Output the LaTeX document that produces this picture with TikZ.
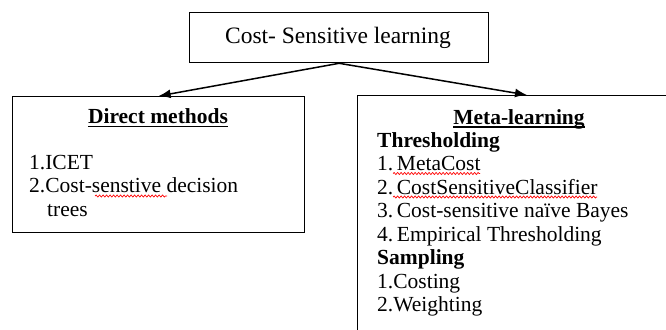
\documentclass[tikz,border=0pt]{standalone}
\usepackage{fontspec}
\setmainfont{Liberation Serif}
\usetikzlibrary{arrows.meta,decorations.pathmorphing}
\begin{document}
\begin{tikzpicture}[x=1pt,y=-1pt,
  box/.style={draw=black,line width=1.3pt,inner sep=0pt,rectangle},
  txt/.style={anchor=base west,inner sep=0pt,font=\fontsize{21.5}{23.5}\selectfont},
  ctxt/.style={anchor=base,inner sep=0pt,font=\fontsize{21.5}{23.5}\selectfont\bfseries},
  conn/.style={line width=1.5pt,-{Latex[length=12pt,width=9pt]}},
  spell/.style={draw=red,line width=0.7pt,decorate,decoration={snake,amplitude=1pt,segment length=3.5pt}}]
\useasboundingbox (0,0) rectangle (666,329);
\clip (0,0) rectangle (666,329);
% boxes
\node[box,minimum width=299pt,minimum height=50pt,anchor=north west] (top) at (189,12) {};
\node[anchor=base,inner sep=0pt,font=\fontsize{23.5}{25}\selectfont] (toptxt) at (338,44) {Cost- Sensitive learning};
\node[box,minimum width=292pt,minimum height=136pt,anchor=north west] (direct) at (12,96) {};
\node[box,minimum width=420pt,minimum height=280pt,anchor=north west] (meta) at (357,95) {};
\coordinate (metain) at (527,95);
% connectors
\draw[conn] (top.south) -- (direct.north);
\draw[conn] (top.south) -- (metain);
% left content
\node[ctxt] (dm) at (158,123) {Direct methods};
\draw[line width=1pt] ([yshift=-3pt]dm.base west) -- ([yshift=-3pt]dm.base east);
\node[txt] (d1) at (29,169) {1.ICET};
\node[txt] (d2) at (29,192.7) {2.Cost-senstive decision};
\node[txt] (d3) at (47,216.7) {trees};
\draw[spell] (95,196) -- (167,196);
% right content
\node[ctxt] (ml) at (519,124) {Meta-learning};
\draw[line width=1.3pt] ([yshift=-3pt]ml.base west) -- ([yshift=-3pt]ml.base east);
\node[txt,font=\fontsize{21.5}{23.5}\selectfont\bfseries] (th) at (377,147) {Thresholding};
\node[txt] (m1) at (377,170.5) {1.\,MetaCost};
\node[txt] (m2) at (377,194) {2.\,CostSensitiveClassifier};
\node[txt] (m3) at (377,217.5) {3.\,Cost-sensitive naïve Bayes};
\node[txt] (m4) at (377,241) {4.\,Empirical Thresholding};
\node[txt,font=\fontsize{21.5}{23.5}\selectfont\bfseries] (sa) at (377,264.5) {Sampling};
\node[txt] (s1) at (377,288) {1.Costing};
\node[txt] (s2) at (377,311.5) {2.Weighting};
\draw[spell] (393,173.5) -- (480,173.5);
\draw[spell] (393,197) -- (597,197);
\end{tikzpicture}
\end{document}
